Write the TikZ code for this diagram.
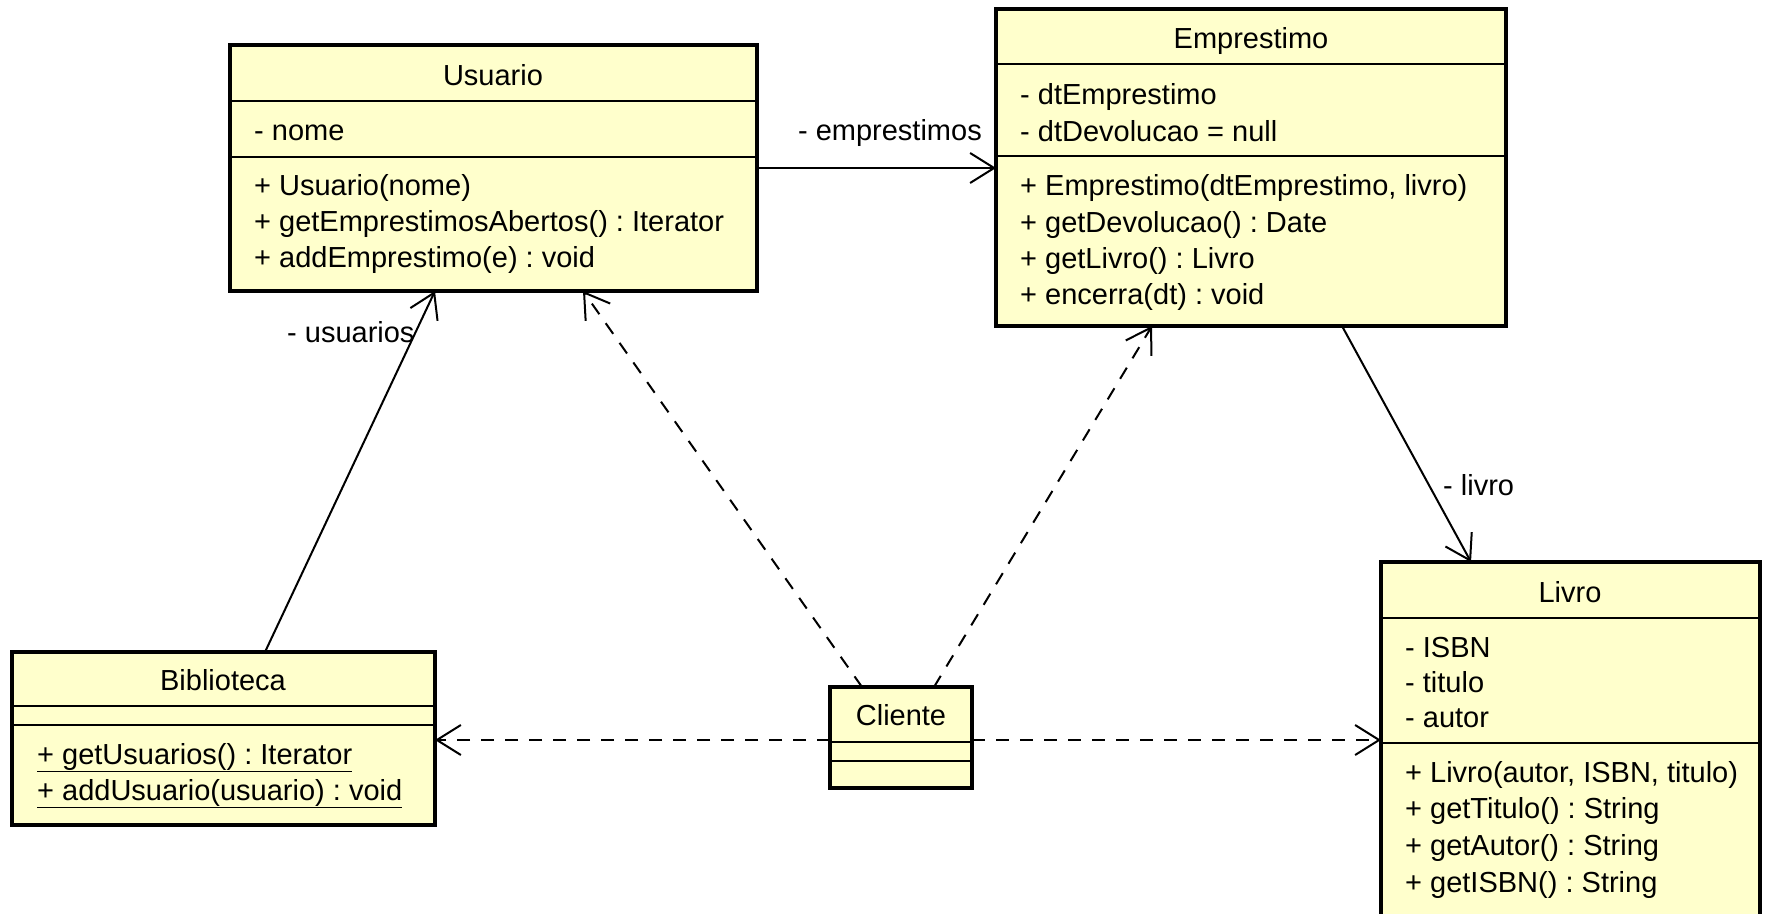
\documentclass[tikz,border=0pt]{standalone}
\usepackage{fontspec}
\setmainfont{Liberation Sans}
\usetikzlibrary{arrows.meta,calc}
\definecolor{classfill}{RGB}{255,255,204}
\frenchspacing
\begin{document}
\begin{tikzpicture}[x=1pt,y=-1pt,
  classbox/.style={draw=black, line width=4pt, fill=classfill, inner sep=0pt,
    outer sep=0pt, anchor=north west},
  sepline/.style={line width=2pt},
  umltext/.style={font=\fontsize{29}{35}\selectfont, inner sep=0pt},
  member/.style={umltext, anchor=base west},
  classname/.style={umltext, anchor=base},
  rolelabel/.style={umltext},
  assoc/.style={line width=2pt, -{Straight Barb[length=24pt,width=30pt]}},
  dependency/.style={assoc, dash pattern=on 13pt off 11pt}
]
\useasboundingbox (0,0) rectangle (1767,913);
\clip (0,0) rectangle (1767,913);

% ---------- Usuario ----------
\node[classbox, minimum width=527pt, minimum height=246pt] (usuario) at (230,45) {};
\draw[sepline] (usuario.west |- 0,101) -- (usuario.east |- 0,101);
\draw[sepline] (usuario.west |- 0,157) -- (usuario.east |- 0,157);
\node[classname] (usuarioname) at (493,85) {Usuario};
\node[member] (usuarioa1) at (254,140) {- nome};
\node[member] (usuariom1) at (254,195) {+ Usuario(nome)};
\node[member] (usuariom2) at (254,231) {+ getEmprestimosAbertos() : Iterator};
\node[member] (usuariom3) at (254,267) {+ addEmprestimo(e) : void};

% ---------- Emprestimo ----------
\node[classbox, minimum width=510pt, minimum height=317pt] (emprestimo) at (996,9) {};
\draw[sepline] (emprestimo.west |- 0,64) -- (emprestimo.east |- 0,64);
\draw[sepline] (emprestimo.west |- 0,156) -- (emprestimo.east |- 0,156);
\node[classname] (emprestimoname) at (1251,48) {Emprestimo};
\node[member] (emprestimoa1) at (1020,104) {- dtEmprestimo};
\node[member] (emprestimoa2) at (1020,141) {- dtDevolucao = null};
\node[member] (emprestimom1) at (1020,195) {+ Emprestimo(dtEmprestimo, livro)};
\node[member] (emprestimom2) at (1020,232) {+ getDevolucao() : Date};
\node[member] (emprestimom3) at (1020,268) {+ getLivro() : Livro};
\node[member] (emprestimom4) at (1020,304) {+ encerra(dt) : void};

% ---------- Biblioteca ----------
\node[classbox, minimum width=423pt, minimum height=173pt] (biblioteca) at (12,652) {};
\draw[sepline] (biblioteca.west |- 0,706) -- (biblioteca.east |- 0,706);
\draw[sepline] (biblioteca.west |- 0,725) -- (biblioteca.east |- 0,725);
\node[classname] (bibliotecaname) at (223,690) {Biblioteca};
\node[member] (bibliotecam1) at (37,764) {\underline{+ getUsuarios() : Iterator}};
\node[member] (bibliotecam2) at (37,800) {\underline{+ addUsuario(usuario) : void}};

% ---------- Cliente ----------
\node[classbox, minimum width=142pt, minimum height=101pt] (cliente) at (830,687) {};
\draw[sepline] (cliente.west |- 0,742) -- (cliente.east |- 0,742);
\draw[sepline] (cliente.west |- 0,761) -- (cliente.east |- 0,761);
\node[classname] (clientename) at (901,725) {Cliente};

% ---------- Livro (runs past the lower edge) ----------
\node[classbox, minimum width=379pt, minimum height=400pt] (livro) at (1381,562) {};
\draw[sepline] (livro.west |- 0,618) -- (livro.east |- 0,618);
\draw[sepline] (livro.west |- 0,743) -- (livro.east |- 0,743);
\node[classname] (livroname) at (1570,602) {Livro};
\node[member] (livroa1) at (1405,657) {- ISBN};
\node[member] (livroa2) at (1405,692) {- titulo};
\node[member] (livroa3) at (1405,727) {- autor};
\node[member] (livrom1) at (1405,782) {+ Livro(autor, ISBN, titulo)};
\node[member] (livrom2) at (1405,818) {+ getTitulo() : String};
\node[member] (livrom3) at (1405,855) {+ getAutor() : String};
\node[member] (livrom4) at (1405,892) {+ getISBN() : String};

% ---------- attachment points on the class borders ----------
\coordinate (usuarioright) at (usuario.east |- 0,168);
\coordinate (emprestimoleft) at (emprestimo.west |- 0,168);
\coordinate (bibliotecatop) at ($(biblioteca.north west)+(253,0)$);
\coordinate (usuariobottomleft) at ($(usuario.south west)+(205,0)$);
\coordinate (usuariobottomright) at ($(usuario.south west)+(353,0)$);
\coordinate (emprestimobottomleft) at ($(emprestimo.south west)+(156,0)$);
\coordinate (emprestimobottomright) at ($(emprestimo.south west)+(346,0)$);
\coordinate (livrotop) at ($(livro.north west)+(90,0)$);
\coordinate (clientetopleft) at ($(cliente.north west)+(32,0)$);
\coordinate (clientetopright) at ($(cliente.north west)+(104,0)$);
\coordinate (clienteleft) at (cliente.west |- 0,740);
\coordinate (clienteright) at (cliente.east |- 0,740);
\coordinate (bibliotecaright) at (biblioteca.east |- 0,740);
\coordinate (livroleft) at (livro.west |- 0,740);

% ---------- associations ----------
\draw[assoc] (usuarioright) -- (emprestimoleft);
\node[rolelabel, anchor=base east] (emprestimoslabel) at (982,140) {- emprestimos};
\draw[assoc] (bibliotecatop) -- (usuariobottomleft);
\node[rolelabel, anchor=base west] (usuarioslabel) at (287,342) {- usuarios};
\draw[assoc] (emprestimobottomright) -- (livrotop);
\node[rolelabel, anchor=base west] (livrolabel) at (1443,495) {- livro};

% ---------- dependencies of Cliente ----------
\draw[dependency] (clientetopleft) -- (usuariobottomright);
\draw[dependency] (clientetopright) -- (emprestimobottomleft);
\draw[dependency] (clienteleft) -- (bibliotecaright);
\draw[dependency] (clienteright) -- (livroleft);
\end{tikzpicture}
\end{document}
